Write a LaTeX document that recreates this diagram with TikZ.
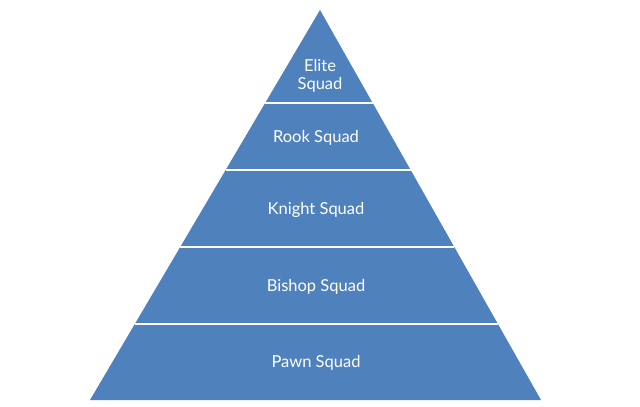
\documentclass[tikz,border=0pt]{standalone}
\usepackage{fontspec}
\setmainfont{Lato}
\definecolor{pyr}{HTML}{4F81BD}
\begin{document}
\begin{tikzpicture}[x=1pt,y=-1pt,
  lbl/.style={text=white,font=\fontsize{16.5}{19}\selectfont,align=center}]
\useasboundingbox (0,0) rectangle (640,407);
% apex (320,10), base left (90,400), base right (541,400)
\def\xl#1{320-0.589744*(#1-10)}
\def\xr#1{320+0.566667*(#1-10)}
\fill[pyr] (320,10) -- (90,400) -- (541,400) -- cycle;
\foreach \y in {103,170,247,324}{
  \draw[white,line width=1.2pt] ({\xl{\y}},\y) -- ({\xr{\y}},\y);
}
\node[lbl] (elite) at (320,76) {Elite\\[-1pt]Squad};
\node[lbl] (rook) at (316,138) {Rook Squad};
\node[lbl] (knight) at (316,210) {Knight Squad};
\node[lbl] (bishop) at (316,287) {Bishop Squad};
\node[lbl] (pawn) at (316,363) {Pawn Squad};
\end{tikzpicture}
\end{document}
